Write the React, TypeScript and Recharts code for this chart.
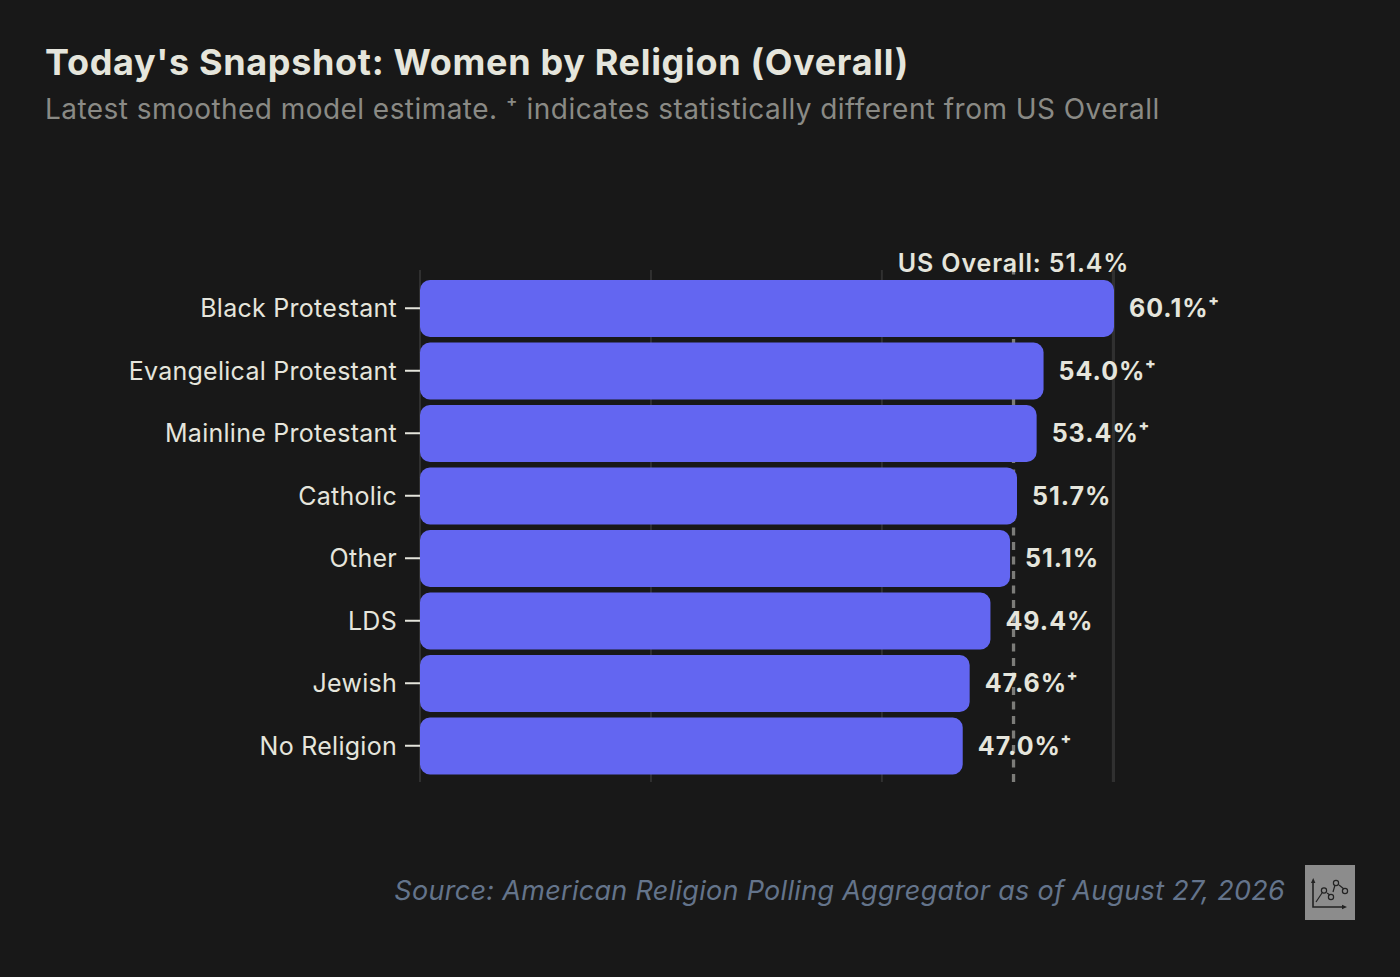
import React from "react";
import { BarChart, Bar, XAxis, YAxis, CartesianGrid, ReferenceLine, LabelList } from "recharts";

const categories = ["Black Protestant", "Evangelical Protestant", "Mainline Protestant", "Catholic", "Other", "LDS", "Jewish", "No Religion"];
const values = [60.1, 54.0, 53.4, 51.7, 51.1, 49.4, 47.6, 47.0];
const significant = [true, true, true, false, false, false, true, true];
const xTicks = [0, 20, 40, 60];
const usOverall = 51.4;

const rows = categories.map((name, i) => ({ name, value: values[i], sig: significant[i] }));
const FONT = "Inter, sans-serif";
const TEXT = "#e5e5dc";

const ValueLabel = (props: any) => {
  const { x, y, width, height, index } = props;
  return (
    <text x={x + width + 15} y={y + height / 2} dy="0.35em" fill={TEXT} fontFamily={FONT} fontSize={25} fontWeight={700} letterSpacing={1}>
      {values[index].toFixed(1)}%{significant[index] ? <tspan dx={-1}>⁺</tspan> : null}
    </text>
  );
};

export default function App() {
  return (
    <div style={{ position: "absolute", left: 0, top: 0, width: 1400, height: 977, background: "#181818", overflow: "hidden", fontFamily: FONT }}>
      <div style={{ position: "absolute", left: 45, top: 40, fontSize: 36, fontWeight: 700, letterSpacing: 0.67, color: TEXT, whiteSpace: "nowrap" }}>
        Today's Snapshot: Women by Religion (Overall)
      </div>
      <div style={{ position: "absolute", left: 45, top: 92, fontSize: 28, letterSpacing: 0.45, color: "#8a8a85", whiteSpace: "nowrap" }}>
        Latest smoothed model estimate. ⁺ indicates statistically different from US Overall
      </div>
      <div style={{ position: "absolute", left: 0, top: 0 }}>
        <BarChart width={1400} height={977} data={rows} layout="vertical" margin={{ top: 270, bottom: 195, left: 0, right: 286 }}>
          <CartesianGrid horizontal={false} stroke="#303030" strokeWidth={2} />
          <XAxis type="number" domain={[0, 60.1]} ticks={xTicks} tickFormatter={() => ""} tickLine={false} axisLine={false} height={0} />
          <YAxis
            type="category"
            dataKey="name"
            width={420}
            interval={0}
            padding={{ top: 7, bottom: 5 }}
            axisLine={false}
            tickSize={15}
            tickMargin={8}
            tickLine={{ stroke: TEXT, strokeWidth: 2 }}
            tick={{ fill: TEXT, fontSize: 25, fontFamily: FONT, letterSpacing: 0.27 }}
          />
          <ReferenceLine
            x={usOverall}
            stroke="#7c7c79"
            strokeWidth={3.3}
            strokeDasharray="8 6.5"
            zIndex={0}
            label={{ value: `US Overall: ${usOverall}%`, position: "top", offset: -2, fill: TEXT, fontSize: 25, fontWeight: 600, letterSpacing: 0.88, fontFamily: FONT }}
          />
          <Bar dataKey="value" fill="#6366f1" barSize={57} radius={10} isAnimationActive={false}>
            <LabelList dataKey="value" content={ValueLabel} />
          </Bar>
        </BarChart>
      </div>
      <div style={{ position: "absolute", right: 115, top: 874, fontSize: 27, letterSpacing: 0.3, fontStyle: "italic", color: "#64748b", whiteSpace: "nowrap" }}>
        Source: American Religion Polling Aggregator as of August 27, 2026
      </div>
      <svg style={{ position: "absolute", left: 1305, top: 865 }} width={50} height={55} viewBox="0 0 50 55">
        <rect width={50} height={55} fill="#8c8c8c" />
        <g stroke="#222" fill="none" strokeWidth={1.2}>
          <path d="M8 17 V42 H38" strokeWidth={1.6} />
          <path d="M11 37 L17 28 M22 28 L25 30 M28 27 L30 20 M34 20 L39 24" />
          <circle cx={19} cy={25.5} r={2.6} />
          <circle cx={26} cy={32} r={2.6} />
          <circle cx={31} cy={18} r={2.6} />
          <circle cx={40} cy={26} r={2.6} />
        </g>
        <path d="M6 18 L8.2 13 L10.4 18 Z M37 39.8 L42 42 L37 44.2 Z" fill="#222" />
      </svg>
    </div>
  );
}
